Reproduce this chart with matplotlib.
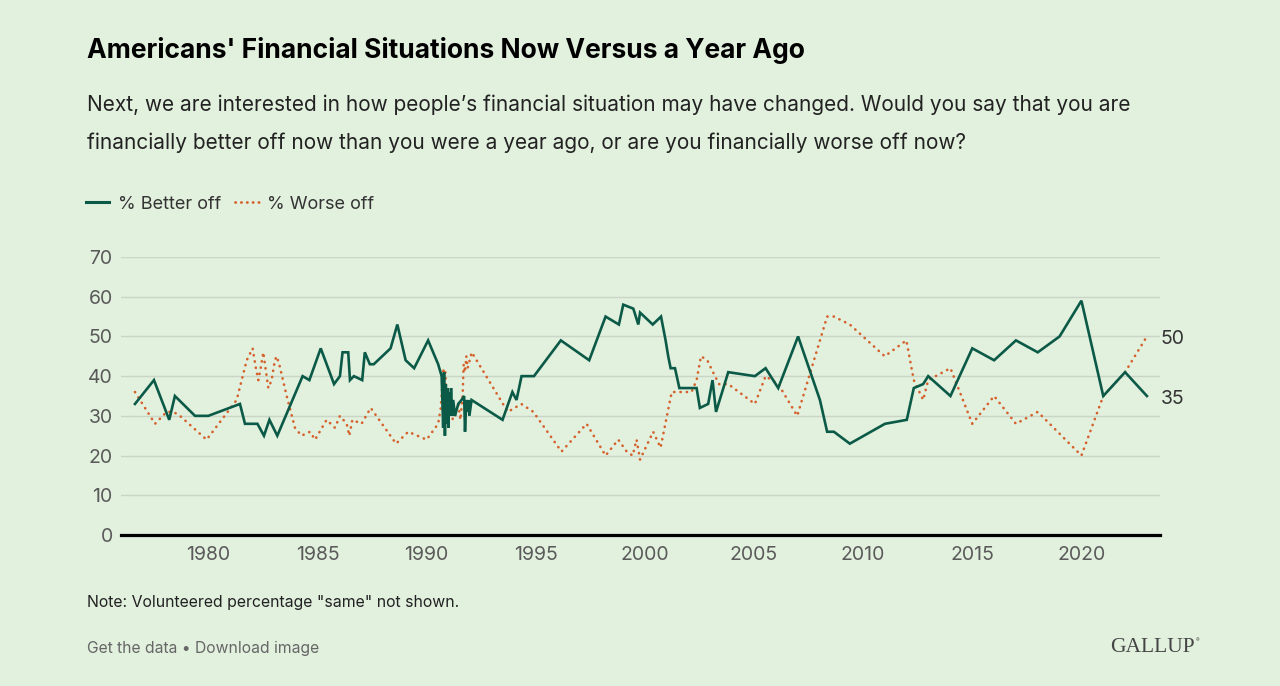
import matplotlib.pyplot as plt
from matplotlib.lines import Line2D

better_years = [1976.64, 1977.51, 1978.21, 1978.47, 1979.39, 1980.0, 1981.45, 1981.68, 1982.25,
                1982.55, 1982.8, 1983.16, 1984.32, 1984.63, 1985.15, 1985.76, 1986.03, 1986.15,
                1986.41, 1986.49, 1986.67, 1987.05, 1987.17, 1987.4, 1987.58, 1988.35, 1988.66,
                1989.04, 1989.43, 1990.07, 1990.53, 1990.69, 1990.76, 1990.80, 1990.84, 1990.88,
                1990.92, 1990.96, 1991.0, 1991.04, 1991.08, 1991.12, 1991.17, 1991.22, 1991.3,
                1991.45, 1991.6, 1991.72, 1991.76, 1991.82, 1991.88, 1991.93, 1991.96, 1992.06,
                1993.48, 1993.93, 1994.12, 1994.35, 1994.92, 1996.15, 1997.45, 1998.2, 1998.81,
                1999.01, 1999.47, 1999.7, 1999.78, 2000.36, 2000.74, 2000.95, 2001.07, 2001.18,
                2001.38, 2001.58, 2002.37, 2002.52, 2002.9, 2003.1, 2003.26, 2003.82, 2005.04,
                2005.53, 2006.11, 2007.02, 2008.02, 2008.35, 2008.66, 2009.39, 2011.0, 2012.0,
                2012.32, 2012.75, 2012.98, 2014.0, 2015.0, 2016.0, 2017.0, 2018.0, 2019.0,
                2020.0, 2021.0, 2022.0, 2023.0]
better_vals = [33, 39, 29, 35, 30, 30, 33, 28, 28,
               25, 29, 25, 40, 39, 47, 38, 40, 46,
               46, 39, 40, 39, 46, 43, 43, 47, 53,
               44, 42, 49, 43, 40, 27, 41, 25, 38,
               28, 37, 27, 36, 30, 37, 30, 34, 30,
               33, 34, 35, 26, 34, 31, 34, 30, 34,
               29, 36, 34, 40, 40, 49, 44, 55, 53,
               58, 57, 53, 56, 53, 55, 49, 45, 42,
               42, 37, 37, 32, 33, 39, 31, 41, 40,
               42, 37, 50, 34, 26, 26, 23, 28, 29,
               37, 38, 40, 35, 47, 44, 49, 46, 50,
               59, 35, 41, 35]

worse_years = [1976.64, 1977.56, 1978.09, 1978.4, 1978.7, 1979.92, 1981.3, 1981.53, 1981.76,
               1982.03, 1982.18, 1982.29, 1982.4, 1982.52, 1982.62, 1982.75, 1982.9, 1983.05,
               1983.13, 1983.25, 1983.59, 1983.97, 1984.27, 1984.66, 1984.89, 1985.42, 1985.8,
               1986.03, 1986.34, 1986.46, 1986.6, 1987.02, 1987.44, 1988.6, 1989.16, 1990.0,
               1990.53, 1990.65, 1990.72, 1990.78, 1990.82, 1990.86, 1990.9, 1990.96, 1991.05,
               1991.12, 1991.2, 1991.3, 1991.45, 1991.55, 1991.65, 1991.7, 1991.76, 1991.82,
               1991.88, 1992.07, 1993.72, 1994.34, 1994.89, 1996.18, 1997.33, 1998.2, 1998.78,
               1999.17, 1999.44, 1999.62, 1999.78, 2000.38, 2000.72, 2001.23, 2001.53, 2002.14,
               2002.37, 2002.57, 2002.86, 2003.21, 2003.4, 2003.82, 2005.04, 2005.53, 2006.11,
               2006.98, 2008.35, 2008.66, 2009.39, 2010.99, 2011.98, 2012.32, 2012.75, 2012.98,
               2014.0, 2015.0, 2016.0, 2017.0, 2018.0, 2020.0, 2021.0, 2022.0, 2023.0]
worse_vals = [36, 28, 31, 31, 30, 24, 34, 39, 44,
              47, 42, 39, 42, 46, 42, 37, 39, 44,
              45, 43, 35, 27, 25, 26, 24, 29, 27,
              30, 28, 25, 29, 28, 32, 23, 26, 24,
              28, 32, 38, 42, 37, 41, 33, 36, 30,
              33, 29, 30, 33, 29, 35, 43, 41, 45,
              42, 46, 31, 33, 31, 21, 28, 20, 24,
              21, 20, 24, 19, 26, 22, 36, 36, 36,
              39, 45, 44, 40, 38, 38, 33, 40, 38,
              30, 55, 55, 53, 45, 49, 39, 34, 39,
              42, 28, 35, 28, 31, 20, 35, 41, 50]

x_ticks = [1980, 1985, 1990, 1995, 2000, 2005, 2010, 2015, 2020]
y_ticks = [0, 10, 20, 30, 40, 50, 60, 70]

BG = '#E2F0DE'
GREEN = '#0B5A47'
ORANGE = '#D5622C'

plt.rcParams['font.family'] = ['Inter', 'DejaVu Sans']

fig = plt.figure(figsize=(12.8, 6.86), dpi=100, facecolor=BG)
ax = fig.add_axes([121 / 1280, 1 - 535 / 686, (1160 - 121) / 1280, (535 - 257) / 686])
ax.set_facecolor(BG)

ax.plot(better_years, better_vals, color=GREEN, lw=1.9, solid_joinstyle='miter', zorder=3,
        clip_on=False)
ax.plot(worse_years, worse_vals, color=ORANGE, lw=1.9, linestyle=(0, (0.1, 2.3)),
        dash_capstyle='round', zorder=2, clip_on=False)

ax.set_xlim(1976.0, 2023.6)
ax.set_ylim(0, 70)
ax.set_xticks(x_ticks)
ax.set_yticks(y_ticks)
ax.tick_params(length=0, labelsize=14, labelcolor='#5a5a5a', pad=8)
ax.tick_params(axis='y', pad=6)
for s in ax.spines.values():
    s.set_visible(False)
ax.grid(axis='y', color='#C9D6C6', lw=1.0)
ax.axhline(0, color='black', lw=2.3, zorder=4, clip_on=False)

# etichette finali
ax.annotate(str(worse_vals[-1]), xy=(worse_years[-1], worse_vals[-1]), xytext=(10, -2),
            textcoords='offset points', va='center', ha='left', fontsize=14, color='#333333')
ax.annotate(str(better_vals[-1]), xy=(better_years[-1], better_vals[-1]), xytext=(10, -2),
            textcoords='offset points', va='center', ha='left', fontsize=14, color='#333333')

fig.text(87 / 1280, 1 - 51 / 686, "Americans' Financial Situations Now Versus a Year Ago",
         fontsize=19, fontweight='bold', color='black', va='center', ha='left')
fig.text(87 / 1280, 1 - 105 / 686,
         "Next, we are interested in how people\u2019s financial situation may have changed. "
         "Would you say that you are", fontsize=15, color='#222222', va='center', ha='left')
fig.text(87 / 1280, 1 - 143 / 686,
         "financially better off now than you were a year ago, or are you financially worse off now?",
         fontsize=15, color='#222222', va='center', ha='left')

handles = [Line2D([], [], color=GREEN, lw=2.2),
           Line2D([], [], color=ORANGE, lw=2.0, linestyle=(0, (0.1, 2.0)), dash_capstyle='round')]
fig.legend(handles, ['% Better off', '% Worse off'], loc='center left',
           bbox_to_anchor=(86 / 1280, 1 - 204 / 686), ncol=2, frameon=False, fontsize=13,
           handlelength=1.3, handletextpad=0.45, columnspacing=0.8, borderpad=0,
           borderaxespad=0, labelcolor='#333333')

fig.text(87 / 1280, 1 - 602 / 686, 'Note: Volunteered percentage "same" not shown.',
         fontsize=11.4, color='#222222', va='center', ha='left')
fig.text(87 / 1280, 1 - 648 / 686, 'Get the data \u2022 Download image',
         fontsize=11.3, color='#666666', va='center', ha='left')
fig.text(1195 / 1280, 1 - 648 / 686, 'GALLUP', family='Liberation Serif', fontsize=15.5,
         color='#444444', va='center', ha='right')
fig.text(1196 / 1280, 1 - 641 / 686, '\u00ae', fontsize=4, color='#444444', va='center',
         ha='left')

fig.savefig('out.png', dpi=100, facecolor=BG)
